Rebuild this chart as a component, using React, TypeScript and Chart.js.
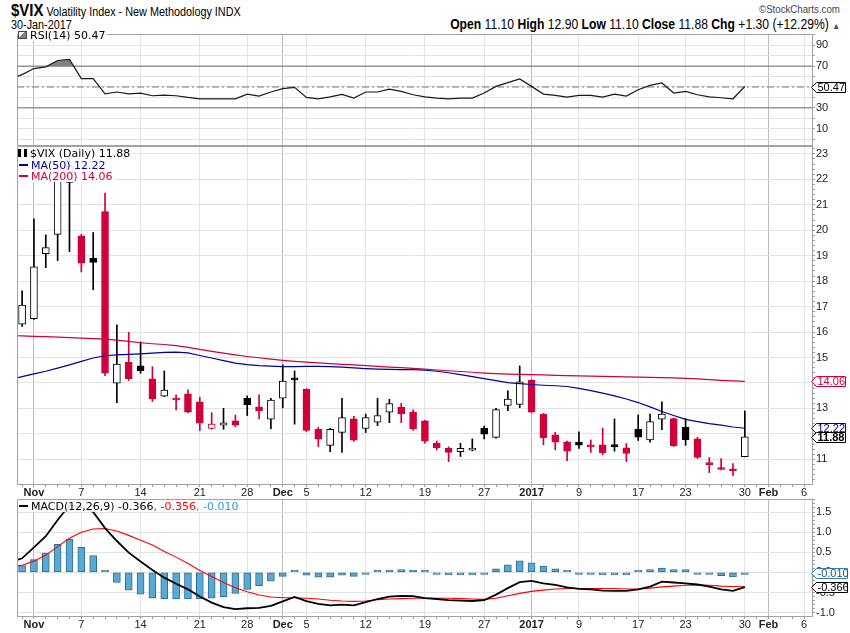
import React, { useEffect, useRef } from 'react';
import { Chart, registerables } from 'chart.js';

Chart.register(...registerables);

// Trading sessions shown (first one is only the clipped left edge of the lines)
const sessions = [
  '2016-10-28', '2016-10-31',
  '2016-11-01', '2016-11-02', '2016-11-03', '2016-11-04', '2016-11-07', '2016-11-08', '2016-11-09', '2016-11-10', '2016-11-11',
  '2016-11-14', '2016-11-15', '2016-11-16', '2016-11-17', '2016-11-18', '2016-11-21', '2016-11-22', '2016-11-23', '2016-11-25',
  '2016-11-28', '2016-11-29', '2016-11-30',
  '2016-12-01', '2016-12-02', '2016-12-05', '2016-12-06', '2016-12-07', '2016-12-08', '2016-12-09', '2016-12-12', '2016-12-13',
  '2016-12-14', '2016-12-15', '2016-12-16', '2016-12-19', '2016-12-20', '2016-12-21', '2016-12-22', '2016-12-23', '2016-12-27',
  '2016-12-28', '2016-12-29', '2016-12-30',
  '2017-01-03', '2017-01-04', '2017-01-05', '2017-01-06', '2017-01-09', '2017-01-10', '2017-01-11', '2017-01-12', '2017-01-13',
  '2017-01-17', '2017-01-18', '2017-01-19', '2017-01-20', '2017-01-23', '2017-01-24', '2017-01-25', '2017-01-26', '2017-01-27',
  '2017-01-30',
];

const opens = [null, 16.31, 16.53, 19.08, 19.84, 21.88, 19.78, 18.90, 20.73, 13.99, 14.82, 14.67, 14.16, 13.48, 13.37, 13.57, 13.26, 12.21, 12.34, 12.51, 13.40, 13.06, 12.58, 13.40, 14.17, 13.75, 12.18, 11.55, 12.06, 12.59, 12.21, 12.46, 12.85, 13.05, 12.86, 12.51, 11.63, 11.43, 11.30, 11.36, 12.22, 11.86, 13.12, 13.16, 14.10, 12.78, 11.96, 11.69, 11.67, 11.55, 11.57, 11.55, 11.45, 12.18, 11.76, 12.58, 12.60, 12.26, 11.80, 10.83, 10.63, 10.58, 11.10];
const highs = [null, 17.62, 20.45, 19.82, 22.50, 22.90, 19.84, 19.91, 21.46, 16.28, 15.99, 15.61, 14.64, 14.47, 13.53, 13.73, 13.44, 12.83, 13.00, 12.74, 13.49, 13.53, 13.40, 14.71, 14.47, 13.78, 12.26, 12.22, 13.40, 12.69, 12.78, 13.40, 13.36, 13.20, 12.94, 12.53, 11.72, 11.49, 11.63, 11.80, 12.31, 13.00, 13.69, 14.67, 14.13, 12.80, 12.06, 11.72, 12.08, 11.76, 12.23, 12.59, 11.62, 12.74, 12.78, 13.26, 12.62, 12.61, 11.87, 11.07, 11.03, 10.83, 12.90];
const lows = [null, 16.22, 16.50, 18.53, 18.81, 19.16, 18.36, 17.66, 14.29, 13.23, 14.10, 14.38, 13.27, 13.46, 12.94, 12.83, 12.13, 12.18, 12.18, 12.28, 12.72, 12.59, 12.20, 13.02, 12.38, 12.09, 11.50, 11.30, 11.27, 11.70, 12.05, 12.32, 12.44, 12.44, 12.14, 11.63, 11.37, 10.91, 11.11, 11.33, 11.80, 11.83, 12.91, 13.03, 12.83, 11.57, 11.37, 10.95, 11.43, 11.27, 11.18, 11.32, 10.91, 11.74, 11.67, 12.16, 11.50, 11.55, 11.03, 10.48, 10.58, 10.36, 11.10];
const closes = [null, 17.06, 18.56, 19.32, 22.08, 22.51, 18.71, 18.74, 14.38, 14.74, 14.17, 14.48, 13.37, 13.72, 13.33, 12.85, 12.42, 12.38, 12.43, 12.34, 13.15, 12.90, 13.33, 14.07, 14.12, 12.14, 11.79, 12.18, 12.64, 11.75, 12.64, 12.72, 13.19, 12.79, 12.20, 11.71, 11.45, 11.27, 11.43, 11.44, 11.99, 12.95, 13.37, 14.04, 12.85, 11.85, 11.67, 11.32, 11.56, 11.49, 11.26, 11.50, 11.23, 11.87, 12.48, 12.78, 11.54, 11.77, 11.07, 10.79, 10.60, 10.55, 11.88];

const ma50 = [14.14, 14.25, 14.36, 14.46, 14.58, 14.71, 14.85, 14.98, 15.07, 15.10, 15.12, 15.14, 15.17, 15.20, 15.21, 15.18, 15.08, 14.98, 14.88, 14.78, 14.72, 14.68, 14.66, 14.64, 14.64, 14.65, 14.65, 14.64, 14.62, 14.59, 14.56, 14.54, 14.53, 14.52, 14.52, 14.50, 14.46, 14.40, 14.33, 14.25, 14.17, 14.09, 14.01, 13.97, 13.94, 13.91, 13.89, 13.86, 13.79, 13.70, 13.60, 13.49, 13.37, 13.23, 13.06, 12.88, 12.72, 12.57, 12.48, 12.40, 12.34, 12.27, 12.22];
const ma200 = [15.86, 15.85, 15.83, 15.82, 15.80, 15.78, 15.76, 15.74, 15.72, 15.68, 15.63, 15.58, 15.54, 15.51, 15.47, 15.40, 15.32, 15.24, 15.17, 15.10, 15.04, 14.99, 14.94, 14.89, 14.85, 14.82, 14.79, 14.76, 14.73, 14.71, 14.68, 14.65, 14.62, 14.60, 14.57, 14.54, 14.51, 14.48, 14.45, 14.42, 14.39, 14.37, 14.35, 14.34, 14.33, 14.32, 14.30, 14.29, 14.28, 14.27, 14.26, 14.25, 14.24, 14.23, 14.22, 14.21, 14.20, 14.18, 14.16, 14.13, 14.10, 14.08, 14.06];

const rsi14 = [57.6, 61.9, 67.7, 69.3, 75.4, 76.4, 58, 58, 43.5, 45.2, 43.5, 44.2, 41.6, 42.2, 41.6, 40, 38.7, 38.7, 38.7, 38.7, 43.2, 41.3, 45.2, 48.4, 49.6, 40, 38.7, 40.6, 42.9, 39.4, 45.2, 45.2, 48.0, 45.8, 42.6, 40.6, 39.4, 38.7, 39.4, 39.4, 44.2, 50.6, 54.2, 57.7, 50.6, 43.2, 41.9, 40.3, 41.9, 41.9, 40.3, 43.2, 41.3, 47.4, 51.6, 53.9, 44.2, 45.8, 42.6, 40.6, 39.7, 38.7, 50.47];

const macdLine = [0.25, 0.35, 0.62, 0.90, 1.30, 1.67, 1.62, 1.50, 1.10, 0.78, 0.49, 0.27, 0.06, -0.13, -0.28, -0.42, -0.60, -0.75, -0.86, -0.91, -0.89, -0.88, -0.83, -0.72, -0.61, -0.71, -0.78, -0.82, -0.80, -0.82, -0.74, -0.66, -0.60, -0.58, -0.59, -0.64, -0.66, -0.69, -0.70, -0.71, -0.69, -0.55, -0.39, -0.24, -0.21, -0.27, -0.31, -0.37, -0.41, -0.42, -0.45, -0.46, -0.46, -0.42, -0.35, -0.23, -0.25, -0.27, -0.30, -0.35, -0.42, -0.46, -0.366];
const signalLine = [0.14, 0.18, 0.28, 0.43, 0.64, 0.85, 1.00, 1.08, 1.09, 1.03, 0.92, 0.80, 0.68, 0.52, 0.38, 0.22, 0.05, -0.10, -0.25, -0.38, -0.48, -0.56, -0.61, -0.63, -0.63, -0.64, -0.66, -0.69, -0.71, -0.72, -0.71, -0.68, -0.66, -0.65, -0.64, -0.64, -0.64, -0.64, -0.65, -0.66, -0.67, -0.64, -0.58, -0.52, -0.47, -0.44, -0.41, -0.40, -0.40, -0.40, -0.40, -0.40, -0.41, -0.41, -0.39, -0.36, -0.34, -0.32, -0.31, -0.32, -0.34, -0.35, -0.356];
const histogram = [null, 0.17, 0.32, 0.48, 0.70, 0.82, 0.62, 0.42, 0.01, -0.25, -0.44, -0.54, -0.64, -0.66, -0.66, -0.66, -0.65, -0.64, -0.60, -0.52, -0.42, -0.33, -0.22, -0.10, 0.01, -0.07, -0.12, -0.12, -0.07, -0.10, -0.04, 0.02, 0.06, 0.07, 0.06, 0.02, -0.03, -0.06, -0.06, -0.06, -0.01, 0.09, 0.19, 0.29, 0.24, 0.16, 0.09, 0.01, -0.01, -0.04, -0.06, -0.06, -0.06, 0.01, 0.07, 0.11, 0.07, 0.07, -0.01, -0.04, -0.08, -0.11, -0.01];

// x-axis (trading-day index, 0 = 31 Oct 2016; future days continue the count)
const xTickIdx = [1, 5, 10, 15, 19, 22, 24, 29, 34, 39, 43, 47, 52, 56, 61, 63, 66];
const xTickText = ['Nov', '7', '14', '21', '28', 'Dec', '5', '12', '19', '27', '2017', '9', '17', '23', '30', 'Feb', '6'];
const monthLabels = ['Nov', 'Dec', '2017', 'Feb'];

const mainTicks = [11, 12, 13, 14, 15, 16, 17, 18, 19, 20, 21, 22, 23];
const rsiTicks = [10, 30, 50, 70, 90];
const macdTicks = [-1.0, -0.5, 0, 0.5, 1.0, 1.5];

const X_MIN = -0.43;
const X_MAX = 66.67;
const RED = '#d0003a';
const BLUE = '#000099';
const GRID = '#e3e3e3';
const GRID_MONTH = '#bcbcbc';
const FRAME = '#a2a2a2';
const AX_FONT = "'Liberation Sans', Arial, sans-serif";
const LEG_FONT = "'DejaVu Sans', Verdana, sans-serif";
const HEAD_FONT = "'Liberation Sans', Arial, sans-serif";

const xOf = (i: number) => i - 1;
const labelAt = (v: number) => {
  const k = xTickIdx.indexOf(Math.round(v));
  return k >= 0 && Math.abs(v - Math.round(v)) < 1e-6 ? xTickText[k] : '';
};
const near = (a: number, b: number) => Math.abs(a - b) < 1e-6;

function makeX(show: boolean) {
  return {
    type: 'linear',
    position: 'bottom',
    min: X_MIN,
    max: X_MAX,
    offset: false,
    afterBuildTicks: (s: any) => {
      const t: any[] = [];
      for (let v = 0; v <= 66; v++) t.push({ value: v });
      s.ticks = t;
    },
    afterFit: (s: any) => {
      s.height = show ? 16 : 0;
    },
    ticks: {
      display: show,
      autoSkip: false,
      maxRotation: 0,
      minRotation: 0,
      padding: -1,
      color: '#222',
      callback: (v: any) => labelAt(Number(v)),
      font: (c: any) => ({
        family: AX_FONT,
        size: 11,
        weight: monthLabels.includes(labelAt(c.tick ? c.tick.value : -99)) ? 'bold' : 'normal',
      }),
    },
    grid: {
      offset: false,
      drawTicks: show,
      tickLength: 3,
      tickColor: '#9a9a9a',
      color: (c: any) => {
        const l = labelAt(c.tick ? c.tick.value : -99);
        if (l === '') return 'rgba(0,0,0,0)';
        return monthLabels.includes(l) ? GRID_MONTH : GRID;
      },
    },
    border: { color: FRAME },
  };
}

function makeY(min: number, max: number, step: number, labelTicks: number[], fmt: (v: number) => string, gridFn: (v: number) => string) {
  const all: number[] = [];
  const n = Math.round((max - min) / step) + 2;
  const start = Math.ceil(min / step) * step;
  for (let k = 0; k < n; k++) {
    const v = Math.round((start + k * step) * 1000) / 1000;
    if (v >= min && v <= max) all.push(v);
  }
  return {
    type: 'linear',
    position: 'right',
    min,
    max,
    afterBuildTicks: (s: any) => {
      s.ticks = all.map((v) => ({ value: v }));
    },
    afterFit: (s: any) => {
      s.width = 38;
    },
    ticks: {
      autoSkip: false,
      padding: 1,
      color: '#222',
      font: { family: AX_FONT, size: 11 },
      callback: (v: any) => (labelTicks.some((t) => near(t, Number(v))) ? fmt(Number(v)) : ''),
    },
    grid: {
      tickLength: 3,
      tickColor: '#a0a0a0',
      color: (c: any) => {
        const v = c.tick ? c.tick.value : NaN;
        return gridFn(v);
      },
    },
    border: { color: FRAME },
  };
}

const framePlugin = {
  id: 'frame',
  afterDatasetsDraw(chart: any) {
    const { ctx, chartArea } = chart;
    ctx.save();
    ctx.strokeStyle = FRAME;
    ctx.lineWidth = 1;
    ctx.beginPath();
    ctx.moveTo(Math.round(chartArea.left) + 0.5, Math.round(chartArea.bottom));
    ctx.lineTo(Math.round(chartArea.left) + 0.5, Math.round(chartArea.top) + 0.5);
    ctx.lineTo(Math.round(chartArea.right), Math.round(chartArea.top) + 0.5);
    ctx.stroke();
    ctx.restore();
  },
};

const tagPlugin = {
  id: 'tags',
  afterDraw(chart: any, _args: any, opts: any) {
    const { ctx, chartArea } = chart;
    const ys = chart.scales.y;
    (opts.items || []).forEach((t: any) => {
      const y = Math.round(ys.getPixelForValue(t.value)) + 0.5;
      const x0 = Math.round(chartArea.right) - 0.5;
      const xa = x0 + 5;
      const x1 = x0 + (t.w || 34);
      ctx.save();
      ctx.beginPath();
      ctx.moveTo(x0, y);
      ctx.lineTo(xa, y - 5);
      ctx.lineTo(x1, y - 5);
      ctx.lineTo(x1, y + 5);
      ctx.lineTo(xa, y + 5);
      ctx.closePath();
      ctx.fillStyle = '#ffffff';
      ctx.fill();
      ctx.strokeStyle = t.color;
      ctx.lineWidth = 1;
      ctx.stroke();
      ctx.fillStyle = t.text_color || t.color;
      ctx.font = `${t.bold ? 'bold ' : ''}11px ${AX_FONT}`;
      ctx.textBaseline = 'middle';
      ctx.textAlign = 'left';
      ctx.fillText(t.text, xa + 1, y + 0.5);
      ctx.restore();
    });
  },
};

function baseOptions(padBottom: number, showX: boolean, y: any, tags: any[]) {
  return {
    responsive: false,
    animation: false,
    events: [],
    layout: { padding: { left: 17, right: 0, top: 8, bottom: padBottom } },
    plugins: {
      legend: { display: false },
      tooltip: { enabled: false },
      tags: { items: tags },
    },
    scales: { x: makeX(showX), y },
  };
}

function rsiConfig(): any {
  const pts = rsi14.map((v, i) => ({ x: xOf(i), y: v }));
  const ref = (v: number) => [{ x: X_MIN, y: v }, { x: X_MAX, y: v }];
  const y = makeY(-5.6, 100.8, 10, rsiTicks, (v) => String(v), () => GRID);
  return {
    type: 'line',
    data: {
      datasets: [
        {
          label: 'RSI(14)',
          data: pts,
          borderColor: '#1a1a1a',
          borderWidth: 1.2,
          pointRadius: 0,
          tension: 0,
          fill: { target: { value: 70 }, above: '#7b877b', below: 'rgba(0,0,0,0)' },
          order: 1,
        },
        { label: '70', data: ref(70), borderColor: '#6e6e6e', borderWidth: 1, pointRadius: 0, fill: false, order: 2 },
        { label: '30', data: ref(30), borderColor: '#6e6e6e', borderWidth: 1, pointRadius: 0, fill: false, order: 2 },
        { label: '50', data: ref(50), borderColor: '#777777', borderWidth: 1, borderDash: [7, 3, 2, 3], pointRadius: 0, fill: false, order: 2 },
      ],
    },
    options: baseOptions(8, false, y, [{ value: 50.47, text: '50.47', color: '#000' }]),
    plugins: [framePlugin, tagPlugin],
  };
}

function mainConfig(): any {
  const bodies: any[] = [];
  const wicks: any[] = [];
  const fill: string[] = [];
  const edge: string[] = [];
  const wickCol: string[] = [];
  for (let i = 1; i < sessions.length; i++) {
    const o = opens[i] as number;
    const c = closes[i] as number;
    const prev = closes[i - 1];
    const col = prev === null || c >= (prev as number) ? '#000000' : RED;
    const hollow = c > o;
    bodies.push({ x: xOf(i), y: [o, c] });
    wicks.push({ x: xOf(i), y: [lows[i], highs[i]] });
    fill.push(hollow ? '#ffffff' : col);
    edge.push(col);
    wickCol.push(col);
  }
  const y = makeY(10.03, 23.31, 0.2, mainTicks, (v) => String(v), (v) =>
    Number.isFinite(v) && near(v, Math.round(v)) ? GRID : 'rgba(0,0,0,0)'
  );
  return {
    type: 'bar',
    data: {
      datasets: [
        { type: 'line', label: 'MA(50)', data: ma50.map((v, i) => ({ x: xOf(i), y: v })), borderColor: BLUE, borderWidth: 1.2, pointRadius: 0, tension: 0, order: 1 },
        { type: 'line', label: 'MA(200)', data: ma200.map((v, i) => ({ x: xOf(i), y: v })), borderColor: RED, borderWidth: 1.2, pointRadius: 0, tension: 0, order: 1 },
        {
          type: 'bar', label: 'body', data: bodies, backgroundColor: fill, borderColor: edge, borderWidth: 1,
          borderSkipped: false, barThickness: 7, grouped: false, minBarLength: 2, order: 2,
        },
        { type: 'bar', label: 'wick', data: wicks, backgroundColor: wickCol, borderWidth: 0, barThickness: 1, grouped: false, order: 3 },
      ],
    },
    options: baseOptions(2, true, y, [
      { value: 14.06, text: '14.06', color: RED },
      { value: 12.22, text: '12.22', color: BLUE },
      { value: 11.88, text: '11.88', color: '#000', bold: true },
    ]),
    plugins: [framePlugin, tagPlugin],
  };
}

function macdConfig(): any {
  const bars: any[] = [];
  for (let i = 1; i < sessions.length; i++) bars.push({ x: xOf(i), y: histogram[i] });
  const y = makeY(-1.082, 1.823, 0.1, macdTicks, (v) => v.toFixed(1), (v) =>
    Number.isFinite(v) && near(v * 2, Math.round(v * 2)) ? GRID : 'rgba(0,0,0,0)'
  );
  return {
    type: 'bar',
    data: {
      datasets: [
        { type: 'line', label: 'MACD', data: macdLine.map((v, i) => ({ x: xOf(i), y: v })), borderColor: '#000', borderWidth: 1.8, pointRadius: 0, tension: 0, order: 1 },
        { type: 'line', label: 'Signal', data: signalLine.map((v, i) => ({ x: xOf(i), y: v })), borderColor: '#ff0000', borderWidth: 1.1, pointRadius: 0, tension: 0, order: 2 },
        {
          type: 'bar', label: 'Histogram', data: bars, backgroundColor: '#5aa9d3', borderColor: '#2a6d94', borderWidth: 1,
          borderSkipped: false, barThickness: 7, grouped: false, minBarLength: 2, order: 3,
        },
      ],
    },
    options: baseOptions(1, true, y, [
      { value: -0.01, text: '-0.010', color: '#2f7fb5', text_color: '#1f4f75', w: 36 },
      { value: -0.366, text: '-0.366', color: '#000', w: 36 },
    ]),
    plugins: [framePlugin, tagPlugin],
  };
}

const legendLine: React.CSSProperties = {
  position: 'absolute',
  height: 12,
  lineHeight: '12px',
  font: `11px ${LEG_FONT}`,
  background: 'rgba(255,255,255,0.88)',
  whiteSpace: 'nowrap',
  paddingRight: 2,
  zIndex: 2,
};

const dash = (color: string) => (
  <span style={{ display: 'inline-block', width: 9, height: 2, background: color, verticalAlign: 'middle', marginRight: 3, marginLeft: 1, marginBottom: 2 }} />
);

const narrowLeft: React.CSSProperties = {
  position: 'absolute',
  whiteSpace: 'nowrap',
  fontFamily: HEAD_FONT,
  transform: 'scaleX(0.88)',
  transformOrigin: 'left top',
  color: '#000',
};
const narrowRight: React.CSSProperties = { ...narrowLeft, transformOrigin: 'right top' };

export default function App() {
  const rsiRef = useRef<HTMLCanvasElement>(null);
  const mainRef = useRef<HTMLCanvasElement>(null);
  const macdRef = useRef<HTMLCanvasElement>(null);

  useEffect(() => {
    const charts = [
      new Chart(rsiRef.current as HTMLCanvasElement, rsiConfig()),
      new Chart(mainRef.current as HTMLCanvasElement, mainConfig()),
      new Chart(macdRef.current as HTMLCanvasElement, macdConfig()),
    ];
    return () => charts.forEach((c) => c.destroy());
  }, []);

  const cv = (top: number, h: number): React.CSSProperties => ({ position: 'absolute', left: 0, top, width: 850, height: h, zIndex: 1 });

  return (
    <div style={{ position: 'absolute', left: 0, top: 0, width: 850, height: 633, background: '#fff', overflow: 'hidden' }}>
      <div style={{ ...narrowLeft, left: 11, top: 1 }}>
        <span style={{ fontSize: 17, fontWeight: 'bold' }}>$VIX</span>
        <span style={{ fontSize: 12.3 }}> Volatility Index - New Methodology INDX</span>
      </div>
      <div style={{ ...narrowLeft, left: 11, top: 18, fontSize: 12.3 }}>30-Jan-2017</div>
      <div style={{ ...narrowRight, right: 10, top: 3, fontSize: 11, color: '#444' }}>©StockCharts.com</div>
      <div style={{ ...narrowRight, right: 10, top: 17, fontSize: 13.8 }}>
        <b>Open</b> 11.10 <b>High</b> 12.90 <b>Low</b> 11.10 <b>Close</b> 11.88 <b>Chg</b> +1.30 (+12.29%) <span style={{ fontSize: 9, color: '#555' }}>▲</span>
      </div>

      <canvas ref={rsiRef} width={850} height={127} style={cv(26, 127)} />
      <canvas ref={mainRef} width={850} height={364} style={cv(138, 364)} />
      <canvas ref={macdRef} width={850} height={142} style={cv(491, 142)} />

      <div style={{ ...legendLine, left: 18, top: 29 }}>
        <span style={{ display: 'inline-block', width: 9, height: 8, marginRight: 3, verticalAlign: 'middle', marginBottom: 2, background: 'linear-gradient(135deg, #fff 40%, #7b877b 40%)', border: '1px solid #444', boxSizing: 'border-box' }} />
        RSI(14) 50.47
      </div>

      <div style={{ ...legendLine, left: 18, top: 147 }}>
        <span style={{ display: 'inline-block', width: 9, height: 8, marginRight: 3, verticalAlign: 'middle', marginBottom: 2, borderLeft: '3px solid #000', borderRight: '3px solid #000', boxSizing: 'border-box' }} />
        $VIX (Daily) 11.88
      </div>
      <div style={{ ...legendLine, left: 18, top: 158.5, color: BLUE }}>
        {dash(BLUE)}MA(50) 12.22
      </div>
      <div style={{ ...legendLine, left: 18, top: 170, color: RED }}>
        {dash(RED)}MA(200) 14.06
      </div>

      <div style={{ ...legendLine, left: 18, top: 500 }}>
        {dash('#000')}MACD(12,26,9) -0.366<span style={{ color: '#ff0000' }}>, -0.356</span>
        <span style={{ color: '#3399cc' }}>, -0.010</span>
      </div>
    </div>
  );
}
